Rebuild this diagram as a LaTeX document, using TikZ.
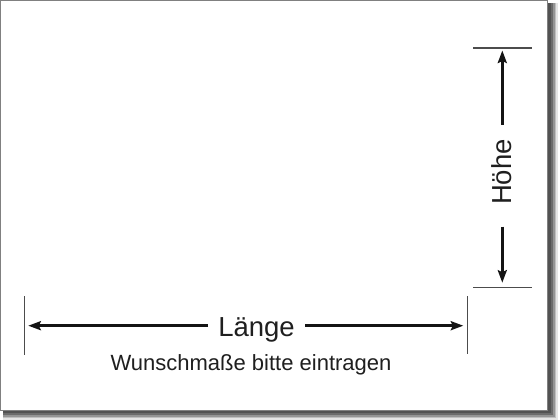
\documentclass[tikz,border=0pt]{standalone}
\usepackage{fontspec}
\setmainfont{Liberation Sans}
\usetikzlibrary{arrows.meta}
\begin{document}
\begin{tikzpicture}[x=1pt,y=-1pt,
  tick/.style={draw=black!70, line width=1.3pt},
  dimline/.style={draw=black!92, line width=2.6pt, -{Stealth[length=12.5pt,width=9pt,inset=2pt]}},
  dimlabel/.style={font=\fontsize{27.5}{27.5}\selectfont, inner sep=0pt, text=black!88},
  note/.style={font=\fontsize{22}{22}\selectfont, inner sep=0pt, text=black!88}]
\useasboundingbox (0,0) rectangle (560,420);
% frame with shadow
\fill[black!10] (3,3) rectangle (558,420);
\fill[black!25] (3,3) rectangle (556,418);
\fill[black!42] (3,3) rectangle (554.5,416.5);
\fill[black!58] (3,3) rectangle (553,415);
\fill[black!68] (3,3) rectangle (551,413);
\filldraw[fill=white, draw=black!50, line width=1pt] (0.5,0.5) rectangle (547,410);
% length dimension
\coordinate (LtA) at (24.3,296);
\coordinate (LtB) at (24.3,355);
\coordinate (LtM) at (24.3,325.7);
\coordinate (RtA) at (467.7,296);
\coordinate (RtB) at (467.7,354);
\coordinate (RtM) at (467.7,325.7);
\draw[tick] (LtA) -- (LtB);
\draw[tick] (RtA) -- (RtB);
\node[dimlabel, anchor=base] (laenge) at (256.5,336.3) {Länge};
\draw[dimline, shorten <=10pt, shorten >=4pt] (laenge.west |- LtM) -- (LtM);
\draw[dimline, shorten <=10.5pt, shorten >=4.4pt] (laenge.east |- RtM) -- (RtM);
\node[note, anchor=base] (wunsch) at (251,370.7) {Wunschmaße bitte eintragen};
% height dimension
\coordinate (HtA) at (473.3,48);
\coordinate (HtB) at (531.7,48);
\coordinate (Htop) at (502.3,48);
\coordinate (HbA) at (473.3,287.7);
\coordinate (HbB) at (531.7,287.7);
\coordinate (Hbot) at (502.3,287.7);
\draw[tick] (HtA) -- (HtB);
\draw[tick] (HbA) -- (HbB);
\node[dimlabel, rotate=90, anchor=base] (hoehe) at (511.9,172) {Höhe};
\draw[dimline, shorten <=14pt, shorten >=2.5pt] (hoehe.east -| Htop) -- (Htop);
\draw[dimline, shorten <=21.5pt, shorten >=5pt] (hoehe.west -| Hbot) -- (Hbot);
\end{tikzpicture}
\end{document}
